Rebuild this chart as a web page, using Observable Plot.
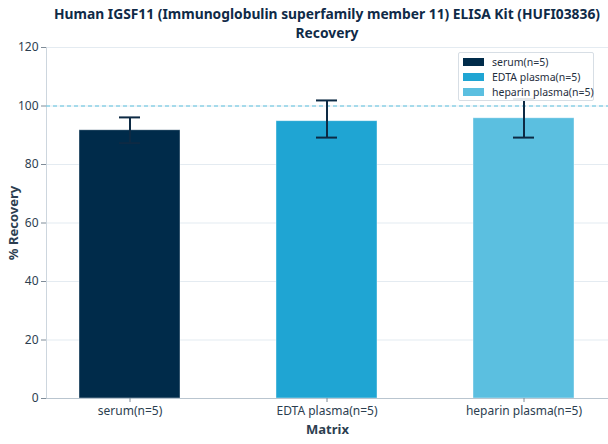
<!DOCTYPE html>
<html><head><meta charset="utf-8">
<script src="https://cdn.jsdelivr.net/npm/d3@7"></script>
<script src="https://cdn.jsdelivr.net/npm/@observablehq/plot@0.6"></script>
<style>
body{margin:0;background:#fff;font-family:"Noto Sans",sans-serif;}
#wrap{position:relative;width:608px;height:444px;}
#title{height:34px;text-align:center;font-weight:bold;font-size:13.8px;color:#0f2a47;padding-left:46px;box-sizing:border-box;white-space:nowrap;position:relative;}
#title div{position:absolute;left:46px;right:0;height:19px;line-height:19px;}
#legend{position:absolute;left:458px;top:52px;width:136px;height:49px;border:1px solid #d7dee5;border-radius:2px;background:rgba(255,255,255,0.9);box-sizing:border-box;font-size:10.5px;color:#1f2f40;}
.li{position:absolute;left:4px;height:14px;line-height:14px;white-space:nowrap;}
.sw{display:inline-block;width:21px;height:8px;vertical-align:middle;margin-right:8px;position:relative;top:-1px;}
svg [aria-label="y-axis label"] text, svg [aria-label="x-axis label"] text{font-weight:bold;font-size:13px;}
</style></head>
<body><div id="wrap"><div id="title"><div style="top:3.5px">Human IGSF11 (Immunoglobulin superfamily member 11) ELISA Kit (HUFI03836)</div><div style="top:22.5px">Recovery</div></div><div id="chart"></div><div id="legend"></div></div>
<script>
const categories = ["serum(n=5)", "EDTA plasma(n=5)", "heparin plasma(n=5)"];
const means = [91.7, 94.8, 95.8];
const errLow = [87.3, 89.2, 89.2];
const errHigh = [96.1, 101.9, 102.4];
const colors = ["#002b4a", "#1fa5d3", "#5bbfe0"];
const yTicks = [0, 20, 40, 60, 80, 100, 120];
const refLine = [100];

const data = categories.map((c, i) => ({cat: c, mean: means[i], lo: errLow[i], hi: errHigh[i]}));

const chart = Plot.plot({
  width: 608, height: 410,
  marginLeft: 46, marginRight: 0, marginTop: 13, marginBottom: 46,
  style: {fontFamily: "Noto Sans", fontSize: "12px", color: "#2c3e50", background: "#fff"},
  x: {domain: categories, paddingInner: 0.485, paddingOuter: 0.162},
  y: {domain: [0, 120]},
  color: {domain: categories, range: colors},
  marks: [
    Plot.gridY(yTicks, {stroke: "#e4ebf1", strokeOpacity: 1, strokeWidth: 1.2}),
    Plot.frame({anchor: "left", stroke: "#cdd6de"}),
    Plot.ruleY(refLine, {stroke: "#5bc0de", strokeDasharray: "4,3", strokeWidth: 1}),
    Plot.barY(data, {x: "cat", y: "mean", fill: "cat", stroke: "#ffffff", strokeOpacity: 0.5, strokeWidth: 0.8}),
    Plot.ruleX(data, {x: "cat", y1: "lo", y2: "hi", stroke: "#0d2a44", strokeWidth: 2}),
    Plot.tickY(data, {x: "cat", y: "hi", stroke: "#0d2a44", strokeWidth: 2, insetLeft: 40, insetRight: 40}),
    Plot.tickY(data, {x: "cat", y: "lo", stroke: "#0d2a44", strokeWidth: 2, insetLeft: 40, insetRight: 40}),
    Plot.ruleY([0], {stroke: "#b9c5cf", strokeWidth: 1.2}),
    Plot.axisY(yTicks, {tickSize: 5, tickPadding: 3, stroke: "#7f8c98", label: "% Recovery", labelAnchor: "center", labelArrow: "none", labelOffset: 38, color: "#2c3e50"}),
    Plot.axisX({tickSize: 4, tickPadding: 4, stroke: "#7f8c98", label: "Matrix", labelAnchor: "center", labelArrow: "none", labelOffset: 35, color: "#2c3e50"})
  ]
});
document.getElementById("chart").appendChild(chart);

const legend = document.getElementById("legend");
categories.forEach((c, i) => {
  const d = document.createElement("div");
  d.className = "li";
  d.style.top = (2 + i * 15) + "px";
  d.innerHTML = `<span class="sw" style="background:${colors[i]}"></span>${c}`;
  legend.appendChild(d);
});
</script></body></html>
